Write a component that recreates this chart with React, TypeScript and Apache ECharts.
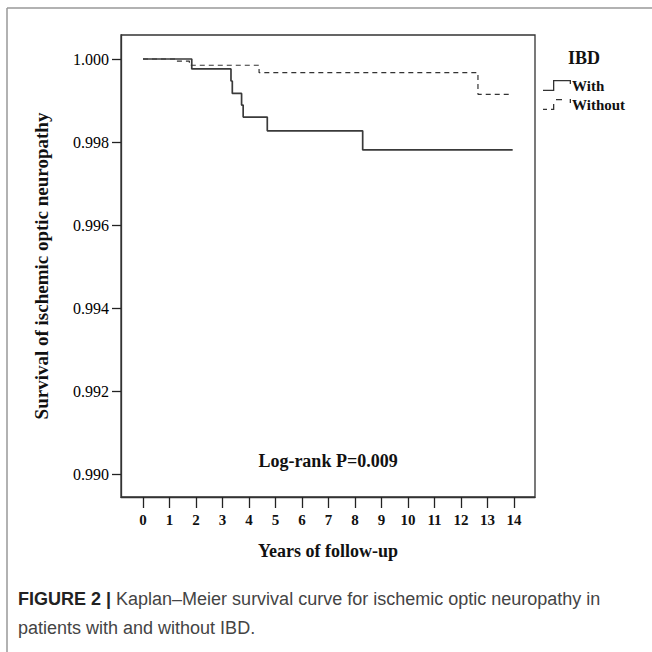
import React, { useEffect, useRef } from "react";
import * as echarts from "echarts";

// ---- data ----
const xTicks = [0, 1, 2, 3, 4, 5, 6, 7, 8, 9, 10, 11, 12, 13, 14];
const yTicks = [0.99, 0.992, 0.994, 0.996, 0.998, 1.0];

const withTimes = [0, 1.84, 3.32, 3.37, 3.72, 3.78, 4.69, 8.29, 13.95];
const withSurv = [1.0, 0.99976, 0.99947, 0.99917, 0.99889, 0.9986, 0.99827, 0.99781, 0.99781];

const withoutTimes = [0, 1.25, 1.75, 4.38, 12.64, 13.9];
const withoutSurv = [1.0, 0.99995, 0.99985, 0.99967, 0.99915, 0.99915];

const seriesNames = ["With", "Without"];
const legendTitle = "IBD";
const xTitle = "Years of follow-up";
const yTitle = "Survival of ischemic optic neuropathy";
const annotation = "Log-rank P=0.009";
const captionBold = "FIGURE 2 |";
const captionLine1 = " Kaplan–Meier survival curve for ischemic optic neuropathy in";
const captionLine2 = "patients with and without IBD.";

const SERIF = "'Liberation Serif', 'Times New Roman', serif";
const SANS = "'Liberation Sans', Arial, sans-serif";

const iconWith =
  "path://M0 9.7 L10 9.7 L10 0 L28 0 L28 4 L26.7 4 L26.7 1.3 L11.3 1.3 L11.3 11 L0 11 Z";
const iconWithout =
  "path://M0 9.7 L4 9.7 L4 11 L0 11 Z M8 9.7 L10 9.7 L10 5 L11.3 5 L11.3 11 L8 11 Z M13 0 L19 0 L19 1.3 L13 1.3 Z M26.7 0 L28 0 L28 4 L26.7 4 Z";

// plot frame (box) in pixels and the pixel spots of the first / last tick
const BOX = { left: 121, top: 35, right: 535, bottom: 497 };
const X0PX = 143, X14PX = 514, Y1PX = 59, Y099PX = 474;

export default function App() {
  const ref = useRef<HTMLDivElement>(null);
  useEffect(() => {
    document.body.style.margin = "0";
    if (!ref.current) return;
    const chart = echarts.init(ref.current, null, { renderer: "svg" });
    const withData = withTimes.map((t, i) => [t, withSurv[i]]);
    const withoutData = withoutTimes.map((t, i) => [t, withoutSurv[i]]);

    // axis range so that the frame is padded beyond the first/last tick
    const xFirst = xTicks[0], xLast = xTicks[xTicks.length - 1];
    const pxPerX = (X14PX - X0PX) / (xLast - xFirst);
    const xMin = xFirst - (X0PX - BOX.left) / pxPerX;
    const xMax = xLast + (BOX.right - X14PX) / pxPerX;
    const yFirst = yTicks[0], yLast = yTicks[yTicks.length - 1];
    const pxPerY = (Y099PX - Y1PX) / (yLast - yFirst);
    const yMax = yLast + (Y1PX - BOX.top) / pxPerY;
    const yMin = yFirst - (BOX.bottom - Y099PX) / pxPerY;

    chart.setOption({
      animation: false,
      backgroundColor: "#ffffff",
      title: {
        text: legendTitle,
        left: 563,
        top: 44,
        textStyle: { fontFamily: SERIF, fontWeight: "bold", fontSize: 18, color: "#111" },
      },
      legend: {
        orient: "vertical",
        left: 538,
        top: 73,
        itemGap: 4,
        itemWidth: 28,
        itemHeight: 11,
        data: [
          { name: seriesNames[0], icon: iconWith },
          { name: seriesNames[1], icon: iconWithout },
        ],
        textStyle: {
          fontFamily: SERIF,
          fontWeight: "bold",
          fontSize: 15,
          color: "#111",
          padding: [0, 0, 0, -4],
        },
      },
      grid: {
        left: BOX.left,
        top: BOX.top,
        width: BOX.right - BOX.left,
        height: BOX.bottom - BOX.top,
        containLabel: false,
        show: true,
        borderColor: "#333",
        borderWidth: 1.3,
        backgroundColor: "transparent",
      },
      xAxis: {
        type: "value",
        min: xMin,
        max: xMax,
        splitLine: { show: false },
        axisLine: { show: true, onZero: false, lineStyle: { color: "#333", width: 1.3 } },
        axisTick: {
          show: true,
          length: 11,
          customValues: xTicks,
          lineStyle: { color: "#222", width: 1.3 },
        },
        axisLabel: {
          margin: 15,
          fontFamily: SERIF,
          fontWeight: "bold",
          fontSize: 15,
          color: "#111",
          customValues: xTicks,
          formatter: (v: number) => String(Math.round(v)),
        },
        name: xTitle,
        nameLocation: "middle",
        nameGap: 45,
        nameTextStyle: { fontFamily: SERIF, fontWeight: "bold", fontSize: 18, color: "#111" },
      },
      yAxis: {
        type: "value",
        min: yMin,
        max: yMax,
        splitLine: { show: false },
        axisLine: { show: true, onZero: false, lineStyle: { color: "#333", width: 1.3 } },
        axisTick: {
          show: true,
          length: 9,
          customValues: yTicks,
          lineStyle: { color: "#222", width: 1.3 },
        },
        axisLabel: {
          margin: 12,
          fontFamily: SERIF,
          fontSize: 16,
          color: "#000",
          customValues: yTicks,
          formatter: (v: number) => v.toFixed(3),
        },
        name: yTitle,
        nameLocation: "middle",
        nameGap: 70,
        nameTextStyle: { fontFamily: SERIF, fontWeight: "bold", fontSize: 19, color: "#111" },
      },
      graphic: [
        {
          type: "line",
          shape: { x1: 7, y1: 8, x2: 7, y2: 652 },
          style: { stroke: "#999", lineWidth: 1.5 },
        },
        {
          type: "line",
          shape: { x1: 7, y1: 8, x2: 652, y2: 8 },
          style: { stroke: "#999", lineWidth: 1.5 },
        },
        {
          type: "text",
          x: 328,
          y: 461,
          style: {
            text: annotation,
            fontFamily: SERIF,
            fontWeight: "bold",
            fontSize: 18,
            fill: "#111",
            textAlign: "center",
            textVerticalAlign: "middle",
          },
        },
        {
          type: "text",
          x: 18,
          y: 599,
          style: {
            text: "{b|" + captionBold + "}" + captionLine1,
            fontFamily: SANS,
            fontSize: 18,
            fill: "#444",
            textVerticalAlign: "middle",
            rich: {
              b: { fontFamily: SANS, fontSize: 18, fontWeight: "bold", fill: "#222" },
            },
          },
        },
        {
          type: "text",
          x: 18,
          y: 628,
          style: {
            text: captionLine2,
            fontFamily: SANS,
            fontSize: 18,
            fill: "#444",
            textVerticalAlign: "middle",
          },
        },
      ],
      series: [
        {
          name: seriesNames[0],
          type: "line",
          step: "end",
          data: withData,
          showSymbol: false,
          symbol: "none",
          color: "#333",
          lineStyle: { color: "#3a3a3a", width: 1.7 },
        },
        {
          name: seriesNames[1],
          type: "line",
          step: "end",
          data: withoutData,
          showSymbol: false,
          symbol: "none",
          color: "#333",
          lineStyle: { color: "#333", width: 1.2, type: [5, 4] },
        },
      ],
    });
    return () => chart.dispose();
  }, []);
  return <div ref={ref} style={{ width: 652, height: 652 }} />;
}
